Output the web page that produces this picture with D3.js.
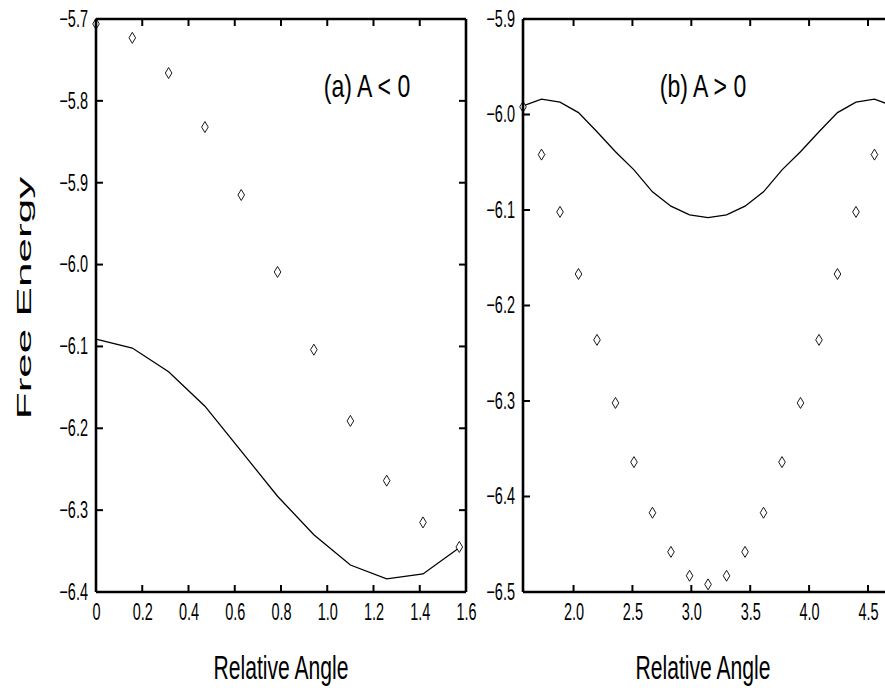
<!DOCTYPE html>
<html>
<head>
<meta charset="utf-8">
<script src="https://cdn.jsdelivr.net/npm/d3@7"></script>
<style>
  html, body { margin: 0; padding: 0; background: #fff; }
  svg { display: block; }
  text { font-family: "Liberation Sans", Arial, sans-serif; fill: #000; }
</style>
</head>
<body>
<svg id="chart" width="885" height="691"></svg>
<script>
// ---- Data ----
const anglesA = [0, 0.157, 0.314, 0.471, 0.628, 0.785, 0.942, 1.100, 1.257, 1.414, 1.571];
const pointsA = [-5.706, -5.723, -5.766, -5.832, -5.915, -6.009, -6.104, -6.191, -6.264, -6.315, -6.345];
const lineA   = [-6.091, -6.102, -6.131, -6.173, -6.228, -6.283, -6.330, -6.367, -6.384, -6.378, -6.346];

const anglesB = [1.571, 1.728, 1.885, 2.042, 2.199, 2.356, 2.513, 2.670, 2.827, 2.985, 3.142,
                 3.299, 3.456, 3.613, 3.770, 3.927, 4.084, 4.241, 4.398, 4.555, 4.712];
const pointsB = [-5.992, -6.042, -6.102, -6.167, -6.236, -6.302, -6.364, -6.417, -6.458, -6.483, -6.492,
                 -6.483, -6.458, -6.417, -6.364, -6.302, -6.236, -6.167, -6.102, -6.042, -5.992];
const lineB   = [-5.991, -5.984, -5.987, -5.998, -6.018, -6.039, -6.058, -6.081, -6.096, -6.105, -6.108,
                 -6.105, -6.096, -6.081, -6.058, -6.039, -6.018, -5.998, -5.987, -5.984, -5.991];

const xTicksA = [0, 0.2, 0.4, 0.6, 0.8, 1.0, 1.2, 1.4, 1.6];
const xTickLabelsA = ["0", "0.2", "0.4", "0.6", "0.8", "1.0", "1.2", "1.4", "1.6"];
const yTicksA = [-5.7, -5.8, -5.9, -6.0, -6.1, -6.2, -6.3, -6.4];
const xTicksB = [2.0, 2.5, 3.0, 3.5, 4.0, 4.5];
const xTickLabelsB = ["2.0", "2.5", "3.0", "3.5", "4.0", "4.5"];
const yTicksB = [-5.9, -6.0, -6.1, -6.2, -6.3, -6.4, -6.5];

const titleA = "(a) A < 0";
const titleB = "(b) A > 0";
const xTitle = "Relative Angle";
const yTitle = "Free Energy";

// ---- Drawing ----
const svg = d3.select("#chart");
const plotTop = 19, plotBottom = 592;
const NARROW = 0.63;

function panel(cfg) {
  const x = d3.scaleLinear().domain(cfg.xDomain).range(cfg.xRange);
  const y = d3.scaleLinear().domain(cfg.yDomain).range([plotBottom, plotTop]);
  const g = svg.append("g");
  const [x0, x1] = cfg.xRange;

  // line
  const line = d3.line().x((d, i) => x(cfg.angles[i])).y(d => y(d));
  g.append("path").datum(cfg.line)
    .attr("d", line).attr("fill", "none").attr("stroke", "#000").attr("stroke-width", 1.3);

  // diamonds
  const diamond = (cx, cy) => `M${cx},${cy-5.5}L${cx+3.3},${cy}L${cx},${cy+5.5}L${cx-3.3},${cy}Z`;
  g.selectAll("path.pt").data(cfg.points).join("path")
    .attr("class", "pt")
    .attr("d", (d, i) => diamond(x(cfg.angles[i]), y(d)))
    .attr("fill", "#fff").attr("stroke", "#000").attr("stroke-width", 0.9);

  // frame
  const frame = g.append("g").attr("stroke", "#000").attr("stroke-width", 2.6).attr("fill", "none");
  frame.append("line").attr("x1", x0).attr("x2", x1).attr("y1", plotTop).attr("y2", plotTop);
  frame.append("line").attr("x1", x0).attr("x2", x1).attr("y1", plotBottom).attr("y2", plotBottom);
  frame.append("line").attr("x1", x0).attr("x2", x0).attr("y1", plotTop).attr("y2", plotBottom);
  frame.append("line").attr("x1", x1).attr("x2", x1).attr("y1", plotTop).attr("y2", plotBottom);

  // axes via d3 (labels), inward ticks drawn below
  const tl = 7;
  const axB = d3.axisBottom(x).tickValues(cfg.xTicks).tickSize(0).tickPadding(0)
    .tickFormat((d, i) => cfg.xLabels[i]);
  const gb = g.append("g").attr("transform", `translate(0,${plotBottom})`).call(axB);
  gb.select(".domain").remove();
  gb.selectAll("text").attr("font-size", 23).attr("y", 28).attr("dy", null)
    .attr("transform", `scale(${NARROW},1)`);

  const pad = 8;
  const axL = d3.axisLeft(y).tickValues(cfg.yTicks).tickSize(0).tickPadding(pad).tickFormat(d3.format(".1f"));
  const gl = g.append("g").attr("transform", `translate(${x0},0)`).call(axL);
  gl.select(".domain").remove();
  gl.selectAll("text").attr("font-size", 23).attr("x", -pad / NARROW)
    .attr("transform", `scale(${NARROW},1)`);

  const ticks = g.append("g").attr("stroke", "#000").attr("stroke-width", 2);
  cfg.xTicks.forEach(t => {
    ticks.append("line").attr("x1", x(t)).attr("x2", x(t)).attr("y1", plotBottom).attr("y2", plotBottom - tl);
    ticks.append("line").attr("x1", x(t)).attr("x2", x(t)).attr("y1", plotTop).attr("y2", plotTop + tl);
  });
  cfg.yTicks.forEach(t => {
    ticks.append("line").attr("x1", x0).attr("x2", x0 + tl).attr("y1", y(t)).attr("y2", y(t));
    ticks.append("line").attr("x1", x1).attr("x2", x1 - tl).attr("y1", y(t)).attr("y2", y(t));
  });

  // title inside
  g.append("text").attr("transform", `translate(${cfg.titleX},97) scale(0.72,1)`)
    .attr("font-size", 32).attr("text-anchor", "middle").text(cfg.title);

  // x title
  g.append("text").attr("transform", `translate(${cfg.xTitleX},679) scale(0.64,1)`)
    .attr("font-size", 33).attr("text-anchor", "middle").text(xTitle);
}

panel({
  xDomain: [0, 1.6], xRange: [96, 466], yDomain: [-6.4, -5.7],
  angles: anglesA, points: pointsA, line: lineA,
  xTicks: xTicksA, xLabels: xTickLabelsA, yTicks: yTicksA,
  title: titleA, titleX: 367, xTitleX: 281
});

panel({
  xDomain: [1.5708, 4.7124], xRange: [523, 893], yDomain: [-6.5, -5.9],
  angles: anglesB, points: pointsB, line: lineB,
  xTicks: xTicksB, xLabels: xTickLabelsB, yTicks: yTicksB,
  title: titleB, titleX: 703, xTitleX: 703
});

svg.append("text")
  .attr("transform", "translate(31,298) rotate(-90) scale(2.1,1)")
  .attr("font-size", 21)
  .attr("text-anchor", "middle").text(yTitle);
</script>
</body>
</html>
